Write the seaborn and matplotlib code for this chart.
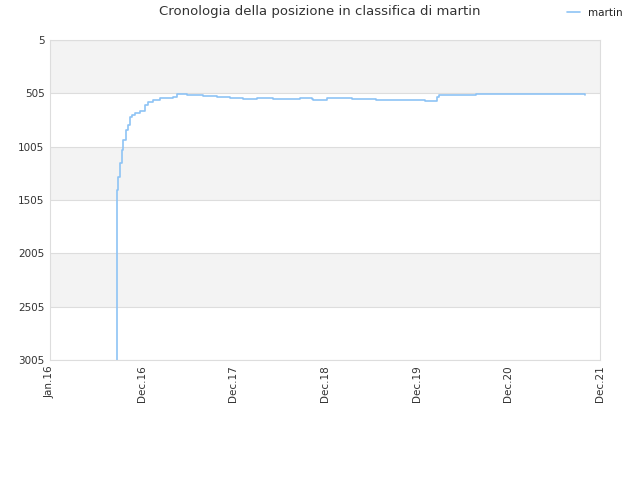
import matplotlib
matplotlib.use("Agg")
import matplotlib.pyplot as plt
import seaborn as sns
import pandas as pd

# x positions in tick units (0 = Jan.16, 1 = Dec.16, ... 6 = Dec.21)
x_vals = [0.727, 0.727, 0.745, 0.763, 0.782, 0.800, 0.825, 0.854, 0.873, 0.898,
          0.927, 0.982, 1.036, 1.073, 1.127, 1.200, 1.345, 1.382, 1.491, 1.669,
          1.818, 1.964, 2.109, 2.255, 2.436, 2.727, 2.800, 2.855, 2.873, 3.018,
          3.295, 3.557, 4.091, 4.218, 4.244, 4.645, 5.836]
ranks = [3005, 1411, 1286, 1158, 1036, 943, 849, 802, 724, 708,
         693, 668, 614, 583, 568, 552, 536, 511, 518, 527,
         536, 546, 555, 546, 555, 550, 546, 558, 568, 546,
         555, 565, 574, 536, 524, 508, 518]
tick_labels = ["Jan.16", "Dec.16", "Dec.17", "Dec.18", "Dec.19", "Dec.20", "Dec.21"]
y_ticks = [5, 505, 1005, 1505, 2005, 2505, 3005]

sns.set_style("white")
plt.rcParams['font.family'] = ['DejaVu Sans']

fig = plt.figure(figsize=(6.4, 4.8), dpi=100)
ax = fig.add_axes([50/640, 120/480, 550/640, 320/480])

df = pd.DataFrame({"x": x_vals, "rank": ranks})
sns.lineplot(data=df, x="x", y="rank", ax=ax, color="#8ec3f5", linewidth=1.2,
             drawstyle="steps-post", label="martin", estimator=None, sort=False)

# alternating bands
for i in range(len(y_ticks) - 1):
    if i % 2 == 0:
        ax.axhspan(y_ticks[i], y_ticks[i + 1], color="#f3f3f3", zorder=0, lw=0)
for yv in y_ticks:
    ax.axhline(yv, color="#dddddd", lw=0.8, zorder=0.5)

ax.set_xlim(0, 6)
ax.set_ylim(3005, 5)
ax.set_yticks(y_ticks)
ax.set_yticklabels([str(v) for v in y_ticks])
ax.set_xticks(range(7))
ax.set_xticklabels(tick_labels, rotation=90)
ax.tick_params(axis="both", labelsize=7.5, colors="#333333", length=0, pad=4)
ax.set_xlabel("")
ax.set_ylabel("")
for s in ax.spines.values():
    s.set_color("#dddddd")
    s.set_linewidth(0.8)

fig.suptitle("Cronologia della posizione in classifica di martin", fontsize=9.5,
             color="#333333", y=0.99)
leg = ax.legend(loc="upper right", bbox_to_anchor=(1.058, 1.13), frameon=False,
                fontsize=7.5, handlelength=1.2)
for t in leg.get_texts():
    t.set_color("#222222")

fig.savefig("out.png", dpi=100)
